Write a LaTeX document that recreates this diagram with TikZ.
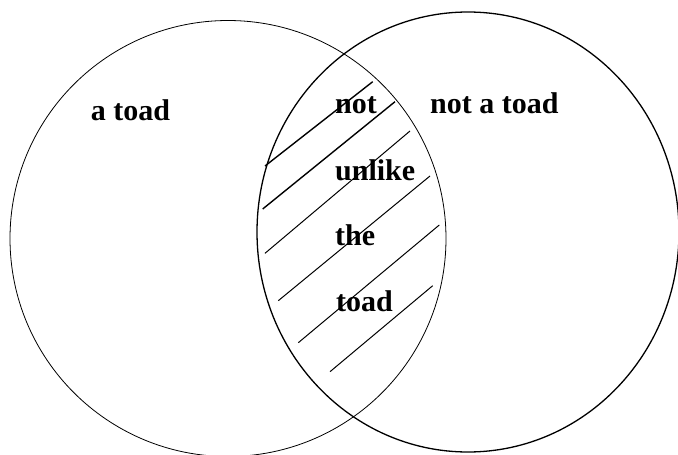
\documentclass[tikz,border=0pt]{standalone}
\usepackage{fontspec}
\setmainfont{Liberation Serif}
\usetikzlibrary{positioning}

\begin{document}
\begin{tikzpicture}[x=1pt,y=-1pt,
    setlabel/.style={inner sep=0pt,anchor=base west,font=\fontsize{30}{34}\selectfont\bfseries}]
    \useasboundingbox (0,0) rectangle (678,455);
    % Sets
    \draw[line width=0.8pt] (228,238.5) ellipse [x radius=218pt,y radius=218pt];
    \draw[line width=1.3pt] (468,232) ellipse [x radius=211pt,y radius=220pt];
    % Hatching
    \draw[line width=1.4pt] (265,166) -- (372.7,81.7);
    \draw[line width=1.4pt] (262.7,209) -- (395,101.7);
    \foreach \xa/\ya/\xb/\yb in {265/253.3/410/131, 278.3/300.7/430/176,
        298.3/342.7/439.3/225, 330/371.7/432.7/285.7}
      \draw[line width=1pt] (\xa,\ya) -- (\xb,\yb);
    % Labels
    \node[setlabel] (toad) at (90.7,120) {a toad};
    \node[setlabel] (nottoad) at (430,113.3) {not a toad};
    \node[setlabel] (wnot) at (335,113.3) {not};
    \node[setlabel] (wunlike) at (335,180.7) {unlike};
    \node[setlabel] (wthe) at (335,245) {the};
    \node[setlabel] (wtoad) at (336,311.7) {toad};
\end{tikzpicture}
\end{document}
